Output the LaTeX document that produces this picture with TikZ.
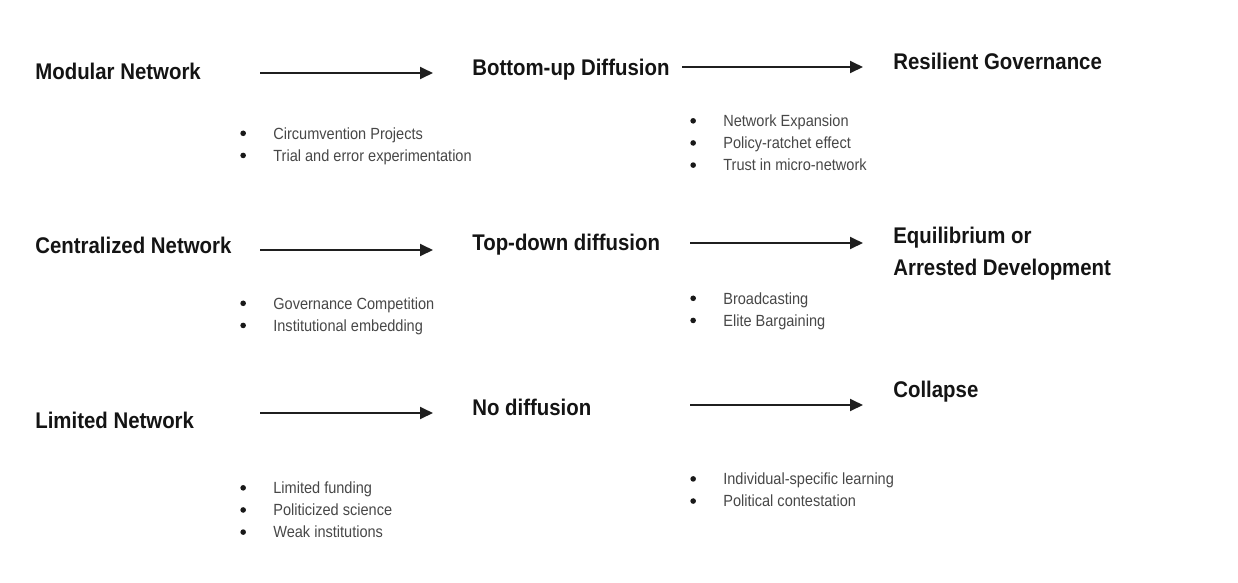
\documentclass[tikz,border=0pt]{standalone}
\usepackage{fontspec}
\setmainfont{Liberation Sans}[FakeStretch=0.9]
\usetikzlibrary{arrows.meta}

\tikzset{
  stage/.style={anchor=west, inner sep=0pt, align=left,
    font=\fontsize{12.9}{18.2}\selectfont\bfseries, text=black!92},
  points/.style={anchor=west, inner sep=0pt, align=left,
    font=\fontsize{9.2}{12.6}\selectfont, text=black!72},
  flow/.style={->, line width=1.2pt, black!88}
}
\newcommand{\bulletitem}[1]{\makebox[0.66cm][l]{\tikz[baseline=-0.36em]\fill[black!90] (0,0) circle (1.6pt);}#1}

\begin{document}
\begin{tikzpicture}[>={Triangle[length=7.4pt,width=6.8pt]}, x=0.02cm, y=-0.02cm]
        \useasboundingbox (0,0) rectangle (1238,582);
        % row 1
        \node[stage] (modular) at (35,71) {Modular Network};
        \node[stage] (bottomup) at (472,70) {Bottom-up Diffusion};
        \node[stage] (resilient) at (893,61) {Resilient Governance};
        \coordinate (a1) at (260,73); \coordinate (b1) at (433,73);
        \coordinate (c1) at (682,67); \coordinate (d1) at (863,67);
        \draw[flow] (a1) -- (b1);
        \draw[flow] (c1) -- (d1);
        \node[points] (modpts) at (240,146) {\bulletitem{Circumvention Projects}\\ \bulletitem{Trial and error experimentation}};
        \node[points] (buppts) at (690,143) {\bulletitem{Network Expansion}\\ \bulletitem{Policy-ratchet effect}\\ \bulletitem{Trust in micro-network}};
        % row 2
        \node[stage] (central) at (35,245) {Centralized Network};
        \node[stage] (topdown) at (472,245) {Top-down diffusion};
        \node[stage] (equil) at (893,254) {Equilibrium or\\Arrested Development};
        \coordinate (a2) at (260,250); \coordinate (b2) at (433,250);
        \coordinate (c2) at (690,243); \coordinate (d2) at (863,243);
        \draw[flow] (a2) -- (b2);
        \draw[flow] (c2) -- (d2);
        \node[points] (cenpts) at (240,316) {\bulletitem{Governance Competition}\\ \bulletitem{Institutional embedding}};
        \node[points] (tdpts) at (690,311) {\bulletitem{Broadcasting}\\ \bulletitem{Elite Bargaining}};
        % row 3
        \node[stage] (limited) at (35,420) {Limited Network};
        \node[stage] (nodiff) at (472,407) {No diffusion};
        \node[stage] (collapse) at (893,392) {Collapse};
        \coordinate (a3) at (260,413); \coordinate (b3) at (433,413);
        \coordinate (c3) at (690,405); \coordinate (d3) at (863,405);
        \draw[flow] (a3) -- (b3);
        \draw[flow] (c3) -- (d3);
        \node[points] (limpts) at (240,510) {\bulletitem{Limited funding}\\ \bulletitem{Politicized science}\\ \bulletitem{Weak institutions}};
        \node[points] (ndpts) at (690,490) {\bulletitem{Individual-specific learning}\\ \bulletitem{Political contestation}};
\end{tikzpicture}
\end{document}
